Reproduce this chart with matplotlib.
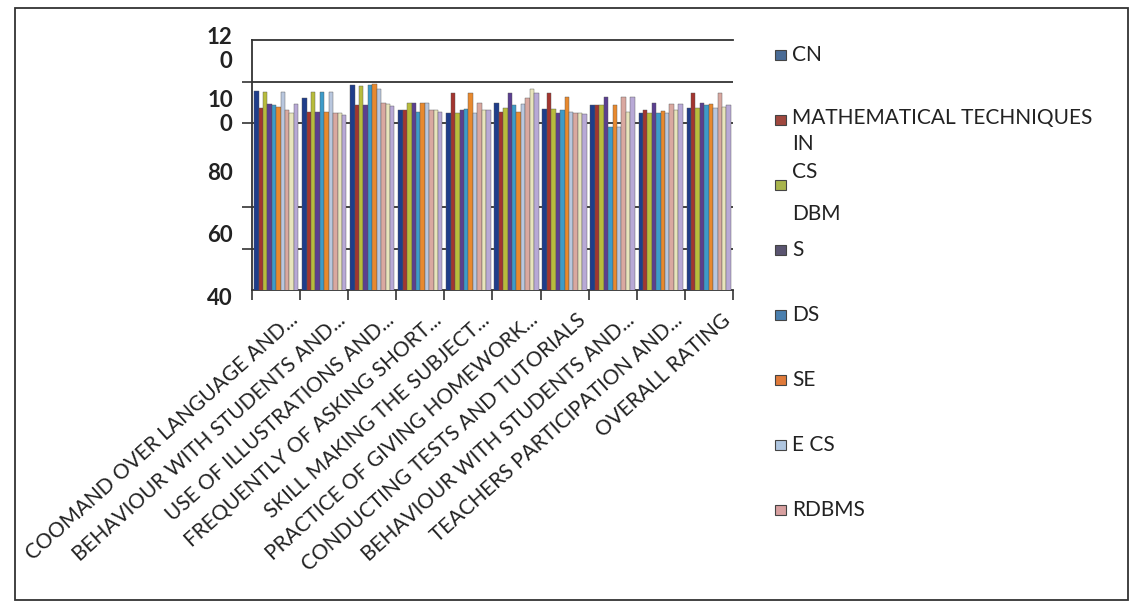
import numpy as np
import matplotlib.pyplot as plt
import matplotlib.transforms as mtransforms
from matplotlib.patches import Rectangle

plt.rcParams['font.family'] = ['Lato', 'DejaVu Sans']

# categories (x axis)
categories = ["COOMAND OVER LANGUAGE AND...", "BEHAVIOUR WITH STUDENTS AND...",
              "USE OF ILLUSTRATIONS AND...", "FREQUENTLY OF ASKING SHORT...",
              "SKILL MAKING THE SUBJECT...", "PRACTICE OF GIVING HOMEWORK...",
              "CONDUCTING TESTS AND TUTORIALS", "BEHAVIOUR WITH STUDENTS AND...",
              "TEACHERS PARTICIPATION AND...", "OVERALL RATING"]

# series values, one list per subject
cn      = [103.7, 101.4, 105.6, 97.6, 96.6, 99.8, 97.9, 99.2, 96.6, 98.2]
math_cs = [98.2, 97.0, 99.2, 97.6, 103.0, 97.0, 103.0, 99.2, 97.6, 103.0]
dbms    = [103.4, 103.4, 105.3, 99.8, 96.6, 98.2, 97.9, 99.2, 96.6, 98.2]
s_ser   = [99.5, 97.0, 99.2, 99.8, 97.6, 103.0, 96.6, 101.8, 99.8, 99.8]
ds      = [99.2, 103.4, 105.6, 97.0, 97.9, 99.2, 97.6, 92.2, 96.6, 99.2]
se      = [98.6, 97.0, 105.9, 99.8, 103.0, 97.0, 101.8, 99.2, 97.3, 99.5]
e_cs    = [103.4, 103.4, 104.3, 99.8, 96.6, 99.5, 97.0, 92.2, 96.6, 98.2]
rdbms   = [97.6, 96.6, 100.0, 97.6, 99.8, 101.4, 96.6, 101.8, 99.5, 103.0]
extra1  = [96.6, 96.6, 99.5, 97.6, 97.6, 104.3, 96.6, 97.0, 97.6, 98.6]
extra2  = [99.5, 96.0, 98.9, 97.0, 97.6, 103.0, 96.3, 101.8, 99.5, 99.2]

series = [cn, math_cs, dbms, s_ser, ds, se, e_cs, rdbms, extra1, extra2]
bar_colors = ['#1f3d8a', '#a3352f', '#b8bc3c', '#5b3f90', '#3d9bc9',
              '#e8892e', '#b9c7de', '#d9a8a0', '#e8e4bc', '#b8a9d6']

# legend as printed on the scan
legend_labels = ['CN', 'MATHEMATICAL TECHNIQUES\nIN', 'CS\nDBM', 'S',
                 'DS', 'SE', 'E CS', 'RDBMS']
legend_colors = ['#4a6c96', '#a0483e', '#a8b44c', '#5a5470',
                 '#4a7fae', '#e07a3a', '#afc6e0', '#d8a0a0']

fig = plt.figure(figsize=(11.36, 6.06), dpi=100)
ax = fig.add_axes([0.222, 0.521, 0.423, 0.413])

n = len(series)
x = np.arange(len(categories))
w = 0.92 / n
for i, vals in enumerate(series):
    ax.bar(x - 0.46 + w * (i + 0.5), vals, width=w, color=bar_colors[i],
           edgecolor='#555555', linewidth=0.3, zorder=3)

ax.set_xlim(-0.5, len(categories) - 0.5)
ax.set_ylim(40, 120)

# y axis: gridlines / tick marks at 7 positions, labels at 20 steps
ax.set_yticks(np.linspace(40, 120, 7), minor=True)
ax.set_yticks([40, 60, 80, 100, 120])
ax.set_yticklabels(['40', '60', '80', '10\n0', '12\n0'], fontsize=16,
                   fontweight='bold', color='#222222')
ax.tick_params(axis='y', which='major', length=0, pad=14)
ax.tick_params(axis='y', which='minor', length=7, width=1.2, color='#333333')
ax.grid(axis='y', which='minor', color='#333333', linewidth=1.3, zorder=0)
down = mtransforms.ScaledTranslation(0, -6 / 100, fig.dpi_scale_trans)
for lbl in ax.get_yticklabels():
    lbl.set_transform(lbl.get_transform() + down)

ax.set_xticks(x)
ax.set_xticklabels(categories, rotation=42, ha='right', va='top',
                   rotation_mode='anchor', fontsize=15, color='#222222')
ax.set_xticks(np.arange(len(categories) + 1) - 0.5, minor=True)
ax.tick_params(axis='x', which='major', length=0, pad=14)
ax.tick_params(axis='x', which='minor', length=7, width=1.2, color='#333333')
shift = mtransforms.ScaledTranslation(12 / 100, 0, fig.dpi_scale_trans)
for lbl in ax.get_xticklabels():
    lbl.set_transform(lbl.get_transform() + shift)

ax.spines['right'].set_visible(False)
for side in ['left', 'bottom', 'top']:
    ax.spines[side].set_color('#333333')
    ax.spines[side].set_linewidth(1.3)

# legend drawn by hand to keep the scan's irregular layout
W, H = 1136, 606
for i, (lab, col) in enumerate(zip(legend_labels, legend_colors)):
    ypx = 55 + 65 * i
    fig.patches.append(Rectangle((775 / W, 1 - (ypx + 5) / H), 11 / W, 10 / H,
                                 transform=fig.transFigure, facecolor=col,
                                 edgecolor='#444444', linewidth=0.8))
    if i == 1:
        fig.text(792 / W, 1 - (ypx - 12) / H, lab, fontsize=15, va='top',
                 ha='left', color='#222222', linespacing=1.4)
    elif i == 2:
        fig.text(792 / W, 1 - (ypx + 8) / H, lab, fontsize=15, va='center',
                 ha='left', color='#222222', linespacing=2.4)
    else:
        fig.text(792 / W, 1 - ypx / H, lab, fontsize=15, va='center',
                 ha='left', color='#222222')

# outer frame of the scanned chart
fig.patches.append(Rectangle((15 / W, 6 / H), 1113 / W, 592 / H,
                             transform=fig.transFigure, fill=False,
                             edgecolor='#333333', linewidth=1.3))

fig.savefig('out.png', dpi=100)
